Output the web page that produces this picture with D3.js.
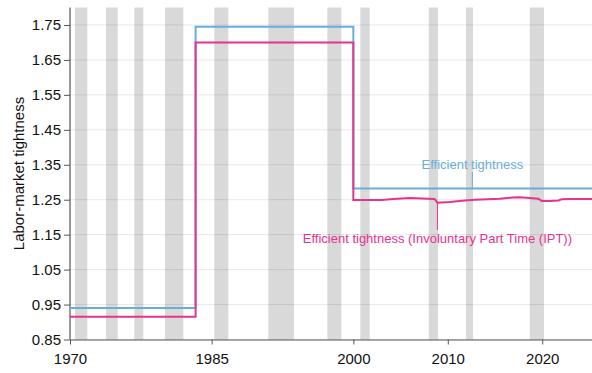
<!DOCTYPE html>
<html>
<head>
<meta charset="utf-8">
<script src="https://cdn.jsdelivr.net/npm/d3@7"></script>
<style>
  html, body { margin: 0; padding: 0; background: #fff; }
  svg { display: block; font-family: "Liberation Sans", Arial, Helvetica, sans-serif; }
</style>
</head>
<body>
<svg id="chart" width="592" height="373"></svg>
<script>
// ---- data ----
const bandStarts = [1970.53, 1973.81, 1976.81, 1980.06, 1985.28, 1991.0, 1997.25, 2000.74, 2007.98, 2011.93, 2018.68];
const bandEnds   = [1971.83, 1975.05, 1977.76, 1982.0, 1986.76, 1993.72, 1998.73, 2001.73, 2008.97, 2012.67, 2020.19];

const effYears  = [1970, 1983.3, 1983.3, 2000, 2000, 2025.3];
const effValues = [0.94, 0.94, 1.745, 1.745, 1.282, 1.282];

const iptYears  = [1970, 1983.3, 1983.3, 2000, 2000, 2003.0, 2004.2, 2006.0, 2007.9, 2008.6, 2008.9, 2010.2, 2011.8, 2012.9, 2015.5, 2016.9, 2017.6, 2019.0, 2019.6, 2019.95, 2020.8, 2021.7, 2022.05, 2022.9, 2025.3];
const iptValues = [0.915, 0.915, 1.70, 1.70, 1.249, 1.249, 1.252, 1.255, 1.253, 1.252, 1.2415, 1.2435, 1.248, 1.250, 1.253, 1.256, 1.257, 1.254, 1.253, 1.246, 1.246, 1.248, 1.251, 1.252, 1.252];

const xTicks = [1970, 1985, 2000, 2010, 2020];
const yTicks = [0.85, 0.95, 1.05, 1.15, 1.25, 1.35, 1.45, 1.55, 1.65, 1.75];

const effLabel = "Efficient tightness";
const iptLabel = "Efficient tightness (Involuntary Part Time (IPT))";
const yTitle = "Labor-market tightness";

// ---- layout ----
const svg = d3.select("#chart");
const mLeft = 70, mRight = 592, mTop = 7.5, mBottom = 339.5;

const x = d3.scaleLinear().domain([1970, 2025.27]).range([mLeft, mRight]);
const y = d3.scaleLinear().domain([0.85, 1.80]).range([mBottom, mTop]);

const blue = "#6aaed8";
const pink = "#e6338e";

// bands
svg.append("g").selectAll("rect")
  .data(bandStarts.map((s, i) => ({ s, e: bandEnds[i] })))
  .join("rect")
  .attr("x", d => x(d.s))
  .attr("width", d => x(d.e) - x(d.s))
  .attr("y", mTop)
  .attr("height", mBottom - mTop)
  .attr("fill", "#d9d9d9");

// gridlines
svg.append("g").selectAll("line")
  .data(yTicks)
  .join("line")
  .attr("x1", mLeft).attr("x2", mRight)
  .attr("y1", d => y(d)).attr("y2", d => y(d))
  .attr("stroke", "rgba(0,0,0,0.09)")
  .attr("stroke-width", 1);

// axes
const yAxis = svg.append("g")
  .attr("transform", `translate(${mLeft},0)`)
  .call(d3.axisLeft(y).tickValues(yTicks).tickFormat(d3.format(".2f")).tickSize(6).tickPadding(3).tickSizeOuter(0));
yAxis.select(".domain").attr("d", `M0,${mTop}V${mBottom}`).attr("stroke", "#333");
yAxis.selectAll(".tick line").attr("stroke", "#555");
yAxis.selectAll("text").attr("font-size", 15).attr("fill", "#111").attr("font-family", null);

const xAxis = svg.append("g")
  .attr("transform", `translate(0,${mBottom})`)
  .call(d3.axisBottom(x).tickValues(xTicks).tickFormat(d3.format("d")).tickSize(5).tickPadding(9).tickSizeOuter(0));
xAxis.select(".domain").attr("stroke", "#555");
xAxis.selectAll(".tick line").attr("stroke", "#555");
xAxis.selectAll("text").attr("font-size", 15).attr("fill", "#111").attr("font-family", null);

// y title
svg.append("text")
  .attr("transform", `translate(24,${(mTop + mBottom) / 2}) rotate(-90)`)
  .attr("text-anchor", "middle")
  .attr("font-size", 15)
  .attr("fill", "#111")
  .text(yTitle);

// lines
const line = d3.line().x(d => x(d[0])).y(d => y(d[1]));
svg.append("path")
  .datum(effYears.map((t, i) => [t, effValues[i]]))
  .attr("d", line)
  .attr("fill", "none").attr("stroke", blue).attr("stroke-width", 2);
svg.append("path")
  .datum(iptYears.map((t, i) => [t, iptValues[i]]))
  .attr("d", line)
  .attr("fill", "none").attr("stroke", pink).attr("stroke-width", 2);

// annotations
const effAnnX = 2012.6;
svg.append("line")
  .attr("x1", x(effAnnX)).attr("x2", x(effAnnX))
  .attr("y1", 172).attr("y2", y(1.282))
  .attr("stroke", blue).attr("stroke-width", 1);
svg.append("text")
  .attr("x", x(effAnnX)).attr("y", 169)
  .attr("text-anchor", "middle").attr("font-size", 13).attr("fill", blue)
  .text(effLabel);

const iptAnnX = 2008.9;
svg.append("line")
  .attr("x1", x(iptAnnX)).attr("x2", x(iptAnnX))
  .attr("y1", y(1.2415)).attr("y2", 230)
  .attr("stroke", pink).attr("stroke-width", 1);
svg.append("text")
  .attr("x", x(iptAnnX)).attr("y", 243)
  .attr("text-anchor", "middle").attr("font-size", 13).attr("fill", pink)
  .text(iptLabel);
</script>
</body>
</html>
